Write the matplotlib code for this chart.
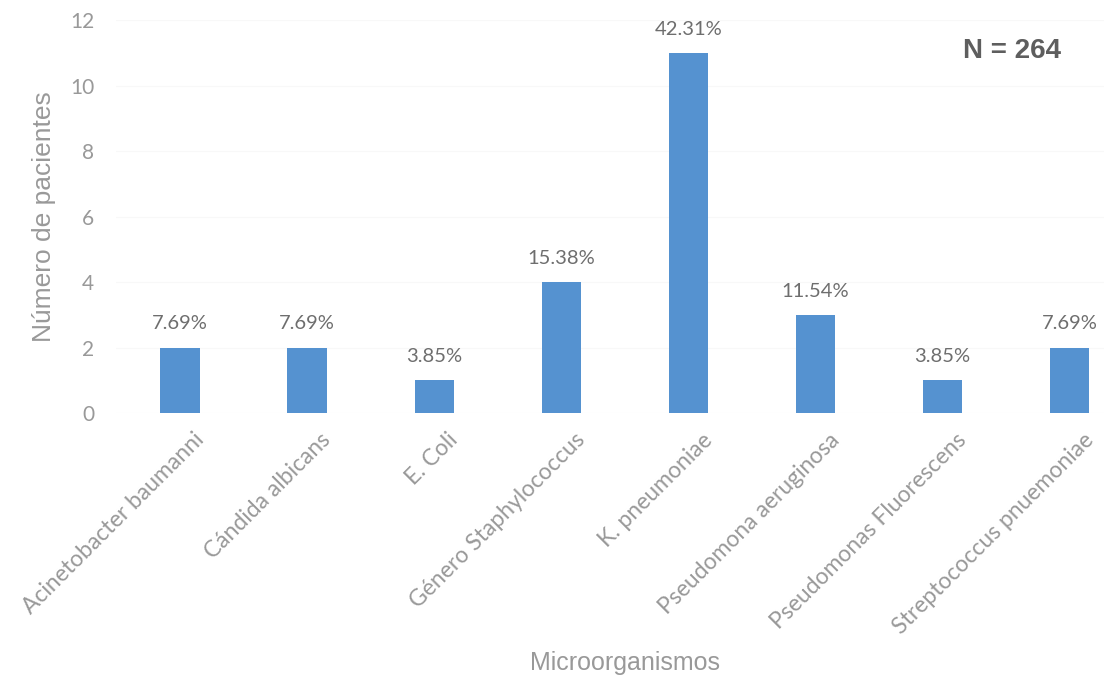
import numpy as np
import matplotlib.pyplot as plt
from matplotlib.transforms import ScaledTranslation

microorganismos = ['Acinetobacter baumanni', 'Cándida albicans', 'E. Coli',
                   'Género Staphylococcus', 'K. pneumoniae', 'Pseudomona aeruginosa',
                   'Pseudomonas Fluorescens', 'Streptococcus pnuemoniae']
pacientes = [2, 2, 1, 4, 11, 3, 1, 2]
porcentajes = ['7.69%', '7.69%', '3.85%', '15.38%', '42.31%', '11.54%', '3.85%', '7.69%']
yticks = [0, 2, 4, 6, 8, 10, 12]

gris = '#999999'
azul = '#5592d0'
fuente = ['Lato', 'DejaVu Sans']
fuente_ejes = ['Liberation Sans Narrow', 'Liberation Sans', 'DejaVu Sans']

fig = plt.figure(figsize=(11.04, 6.77), dpi=100)
ax = fig.add_axes([0.1055, 0.390, 0.921, 0.580])

x = np.arange(len(microorganismos))
ax.yaxis.grid(True, color='#f8f8f8', linewidth=0.8)
ax.set_axisbelow(True)
ax.bar(x, pacientes, width=0.31, color=azul)

for xi, v, p in zip(x, pacientes, porcentajes):
    ax.annotate(p, (xi, v), xytext=(0, 11), textcoords='offset points',
                ha='center', va='bottom', fontsize=14.5, color='#6e6e6e',
                family=fuente)

ax.set_xlim(-0.5, len(x) - 0.5)
ax.set_ylim(0, 12)
ax.set_yticks(yticks)
ax.tick_params(axis='y', length=0, pad=16, labelsize=15, labelcolor=gris)
ax.tick_params(axis='x', length=0, pad=8)
for lbl in ax.get_yticklabels():
    lbl.set_family(fuente)

ax.set_xticks(x)
ax.set_xticklabels(microorganismos, rotation=45, ha='right', rotation_mode='anchor',
                   fontsize=16.5, color=gris, family=fuente)
desplaza = ScaledTranslation(13 / 100, -5 / 100, fig.dpi_scale_trans)
for lbl in ax.get_xticklabels():
    lbl.set_transform(lbl.get_transform() + desplaza)

ax.set_ylabel('Número de pacientes', fontsize=19, color=gris, labelpad=10,
              family=fuente_ejes)
ax.set_xlabel('Microorganismos', fontsize=18, color=gris, family=fuente_ejes)
ax.xaxis.set_label_coords(0.5, -0.605)

for s in ax.spines.values():
    s.set_visible(False)

fig.text(0.917, 0.924, 'N = 264', fontsize=20, fontweight='bold', color='#5e5e5e',
         ha='center', va='center', family=fuente_ejes)

fig.savefig('out.png', dpi=100)
